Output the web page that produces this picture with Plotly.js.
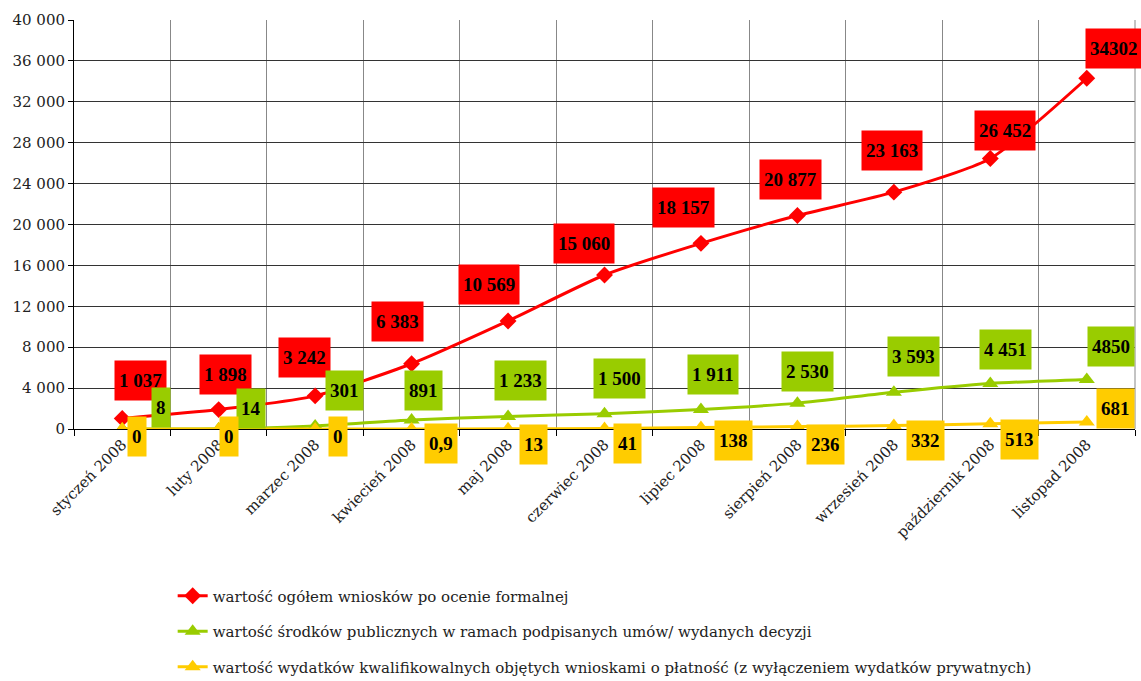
<!DOCTYPE html>
<html>
<head>
<meta charset="utf-8">
<script src="https://cdn.plot.ly/plotly-3.0.1.min.js"></script>
<style>html,body{margin:0;padding:0;background:#fff;}</style>
</head>
<body>
<div id="chart" style="width:1141px;height:681px;"></div>
<script>
const months = ["styczeń 2008","luty 2008","marzec 2008","kwiecień 2008","maj 2008","czerwiec 2008","lipiec 2008","sierpień 2008","wrzesień 2008","październik 2008","listopad 2008"];

const seriesNames = [
  "wartość ogółem wniosków po ocenie formalnej",
  "wartość środków publicznych w ramach podpisanych umów/ wydanych decyzji",
  "wartość wydatków kwalifikowalnych objętych wnioskami o płatność (z wyłączeniem wydatków prywatnych)"
];

const totalValues = [1037, 1898, 3242, 6383, 10569, 15060, 18157, 20877, 23163, 26452, 34302];
const publicValues = [8, 14, 301, 891, 1233, 1500, 1911, 2530, 3593, 4451, 4850];
const eligibleValues = [0, 0, 0, 0.9, 13, 41, 138, 236, 332, 513, 681];

const totalLabels = ["1 037","1 898","3 242","6 383","10 569","15 060","18 157","20 877","23 163","26 452","34302"];
const publicLabels = ["8","14","301","891","1 233","1 500","1 911","2 530","3 593","4 451","4850"];
const eligibleLabels = ["0","0","0","0,9","13","41","138","236","332","513","681"];

// label offsets in pixels (dx right, dy down) relative to the point
const totalOffX = [18, 7, -11, -14, -19, -21, -17, -7, -2, 15, 27];
const totalOffY = [-38, -35, -38, -42, -36, -32, -36, -36, -42, -28, -30];
const publicOffX = [39, 32, 29, 12, 12, 15, 12, 10, 20, 15, 24];
const publicOffY = [-21, -20, -35, -29, -36, -35, -35, -32, -36, -34, -33];
const eligibleOffX = [15, 10, 23, 29, 25, 23, 33, 28, 32, 29, 29];
const eligibleOffY = [7, 7, 7, 15, 16, 15, 13, 18, 15, 16, -14];

const RED = "#FF0000", GREEN = "#99CC00", YELLOW = "#FFCC00";
const LABEL_FONT = "Liberation Serif";
const TEXT_FONT = "DejaVu Serif";

const traces = [
  {x: months, y: totalValues, name: seriesNames[0], legendgroup: "a", type: "scatter", mode: "lines+markers",
   line: {color: RED, width: 3, shape: "spline", smoothing: 0.6}, marker: {symbol: "diamond", size: 13, color: RED}},
  {x: months, y: publicValues, name: seriesNames[1], legendgroup: "b", type: "scatter", mode: "lines+markers",
   line: {color: GREEN, width: 3, shape: "spline", smoothing: 0.6}, marker: {symbol: "triangle-up", size: 14, color: GREEN}},
  {x: months, y: eligibleValues, name: seriesNames[2], legendgroup: "c", type: "scatter", mode: "lines+markers",
   line: {color: YELLOW, width: 3, shape: "spline", smoothing: 0.6}, marker: {symbol: "triangle-up", size: 14, color: YELLOW}}
];

const annotations = [];
function addLabels(vals, labels, offX, offY, color) {
  for (let i = 0; i < vals.length; i++) {
    annotations.push({
      x: months[i], y: vals[i], xref: "x", yref: "y",
      text: "<b>" + labels[i] + "</b>", showarrow: false,
      xshift: offX[i], yshift: -offY[i],
      bgcolor: color, borderpad: 4, height: 31,
      font: {family: LABEL_FONT, size: 19, color: "#000"},
      xanchor: "center", yanchor: "middle"
    });
  }
}
addLabels(totalValues, totalLabels, totalOffX, totalOffY, RED);
addLabels(publicValues, publicLabels, publicOffX, publicOffY, GREEN);
addLabels(eligibleValues, eligibleLabels, eligibleOffX, eligibleOffY, YELLOW);

const layout = {
  width: 1141, height: 681,
  margin: {l: 74, r: 6, t: 20, b: 252, autoexpand: false},
  paper_bgcolor: "#fff", plot_bgcolor: "#fff",
  separators: ", ",
  font: {family: TEXT_FONT, size: 15, color: "#222"},
  showlegend: true,
  legend: {x: 0.093, y: -0.368, xanchor: "left", yanchor: "top", orientation: "v",
           tracegroupgap: 13, font: {family: TEXT_FONT, size: 15, color: "#222"}, bgcolor: "rgba(0,0,0,0)"},
  xaxis: {type: "category", tickson: "boundaries", showgrid: true, gridcolor: "#888", gridwidth: 1,
          showline: true, linecolor: "#000", linewidth: 1, ticks: "outside", ticklen: 6, tickcolor: "#000",
          tickangle: -45, tickfont: {family: TEXT_FONT, size: 15, color: "#222"}, zeroline: false,
          range: [-0.5, 10.5], fixedrange: true, automargin: false},
  yaxis: {range: [0, 40000], dtick: 4000, tick0: 0, separatethousands: true, tickformat: ",d",
          showgrid: true, gridcolor: "#333", gridwidth: 1, showline: true, linecolor: "#000", linewidth: 1,
          ticks: "outside", ticklen: 5, tickcolor: "#000", zeroline: false, automargin: false,
          tickfont: {family: TEXT_FONT, size: 15, color: "#222"}, fixedrange: true},
  shapes: [{type: "line", xref: "paper", yref: "paper", x0: 1, x1: 1, y0: 0, y1: 1, line: {color: "#888", width: 1}}],
  annotations: annotations
};

Plotly.newPlot("chart", traces, layout, {displayModeBar: false});
</script>
</body>
</html>
